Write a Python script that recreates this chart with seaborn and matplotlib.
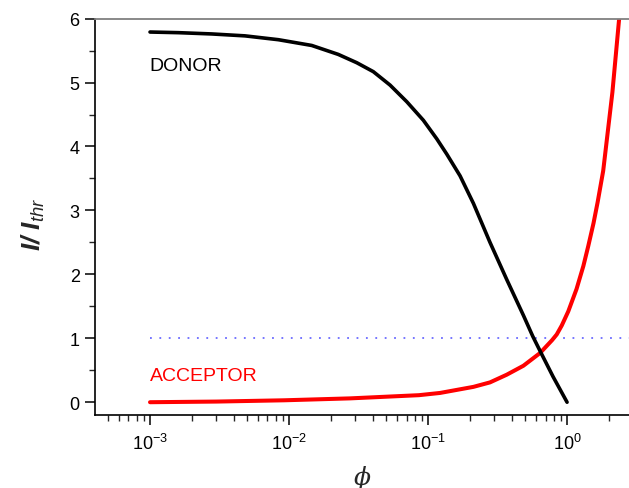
import numpy as np
import pandas as pd
import matplotlib
matplotlib.use("Agg")
import matplotlib.pyplot as plt
import seaborn as sns
from matplotlib.ticker import LogLocator, MultipleLocator, NullFormatter

# Donor curve: normalised intensity I/I_thr vs. volume fraction phi
donor_phi = [0.001, 0.0016, 0.00278, 0.00482, 0.00838, 0.01456, 0.0226,
             0.0307, 0.0404, 0.0533, 0.0703, 0.0925, 0.1155, 0.1364, 0.170,
             0.212, 0.279, 0.368, 0.485, 0.567, 0.640, 0.793, 1.0]
donor_I = [5.79, 5.78, 5.76, 5.73, 5.67, 5.58, 5.44,
           5.31, 5.17, 4.96, 4.70, 4.41, 4.12, 3.88, 3.54,
           3.11, 2.50, 1.92, 1.36, 1.03, 0.80, 0.40, 0.0]

# Acceptor curve
acceptor_phi = [0.001, 0.003, 0.0092, 0.0275, 0.086, 0.122, 0.212, 0.279,
                0.368, 0.485, 0.640, 0.78, 0.843, 0.916, 1.02, 1.17, 1.31,
                1.42, 1.55, 1.66, 1.82, 2.12, 2.37]
acceptor_I = [0.0, 0.01, 0.03, 0.06, 0.11, 0.145, 0.24, 0.31,
              0.43, 0.57, 0.77, 0.97, 1.06, 1.20, 1.42, 1.77, 2.13,
              2.44, 2.80, 3.13, 3.62, 4.85, 6.0]

threshold = 1.0
x_ticks = [1e-3, 1e-2, 1e-1, 1e0]
y_ticks = [0, 1, 2, 3, 4, 5, 6]

sns.set_style("ticks")
plt.rcParams["font.family"] = ["Liberation Sans", "DejaVu Sans"]
plt.rcParams["mathtext.fontset"] = "custom"
plt.rcParams["mathtext.rm"] = "Liberation Sans"
plt.rcParams["mathtext.it"] = "Liberation Sans:italic"
plt.rcParams["mathtext.bf"] = "Liberation Sans:italic:bold"

donor = pd.DataFrame({"phi": donor_phi, "I": donor_I})
acceptor = pd.DataFrame({"phi": acceptor_phi, "I": acceptor_I})

fig = plt.figure(figsize=(6.29, 4.89), dpi=100)
ax = fig.add_axes([95 / 629, 1 - 416 / 489, (629 - 95) / 629, (416 - 19.6) / 489])

ax.set_xscale("log")
ax.set_xlim(4.02e-4, 2.79)
ax.set_ylim(-0.2, 6)

ax.axhline(threshold, xmin=0.103, xmax=1.0, color="#6a6aff", lw=1.3,
           ls=(0, (1, 4.2)), zorder=1)

sns.lineplot(data=donor, x="phi", y="I", color="black", lw=2.6, ax=ax,
             estimator=None, sort=False, zorder=3)
sns.lineplot(data=acceptor, x="phi", y="I", color="#ff0000", lw=2.9, ax=ax,
             estimator=None, sort=False, zorder=2)

ax.text(0.99e-3, 5.27, "DONOR", fontsize=14, color="black", va="center", ha="left")
ax.text(1.0e-3, 0.41, "ACCEPTOR", fontsize=14, color="#ff0000", va="center", ha="left")

ax.set_xticks(x_ticks)
ax.xaxis.set_minor_locator(LogLocator(base=10, subs=np.arange(2, 10), numticks=20))
ax.xaxis.set_minor_formatter(NullFormatter())
ax.set_yticks(y_ticks)
ax.yaxis.set_minor_locator(MultipleLocator(0.5))

ax.tick_params(which="major", direction="out", length=7, width=1.1,
               labelsize=13, colors="black", top=False, right=False, pad=4)
ax.tick_params(axis="x", which="major", pad=6)
ax.tick_params(which="minor", direction="out", length=4, width=1.0,
               top=False, right=False)

for side in ("left", "bottom"):
    ax.spines[side].set_color("black")
    ax.spines[side].set_linewidth(1.2)
ax.spines["right"].set_visible(False)
ax.spines["top"].set_color("#808080")
ax.spines["top"].set_linewidth(1.3)

ax.set_xlabel("ϕ", family=["DejaVu Serif"], style="italic", fontsize=18)
ax.xaxis.set_label_coords(0.5, -0.156)
ax.xaxis.label.set_va("center")
ax.set_ylabel(r"$\mathbf{I/\ I}_{thr}$", fontsize=19)
ax.yaxis.set_label_coords(-0.116, 0.484)
ax.yaxis.label.set_va("center")

fig.savefig("out.png", dpi=100, facecolor="white")
